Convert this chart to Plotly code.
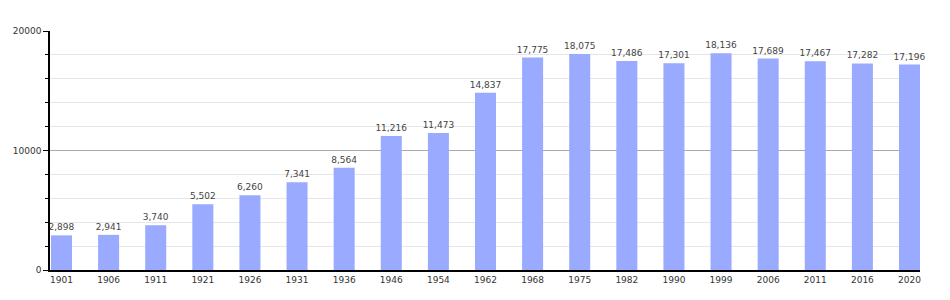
import plotly.graph_objects as go

years = ["1901", "1906", "1911", "1921", "1926", "1931", "1936", "1946", "1954", "1962",
         "1968", "1975", "1982", "1990", "1999", "2006", "2011", "2016", "2020"]
population = [2898, 2941, 3740, 5502, 6260, 7341, 8564, 11216, 11473, 14837,
              17775, 18075, 17486, 17301, 18136, 17689, 17467, 17282, 17196]

fig = go.Figure()
fig.add_trace(go.Bar(
    x=years, y=population,
    marker=dict(color="#99aaff", line=dict(width=0)),
    width=0.446,
    text=[f"{v:,}" for v in population],
    textposition="outside",
    constraintext="none",
    textfont=dict(family="DejaVu Sans", size=9, color="#444444"),
    cliponaxis=False,
))

fig.update_layout(
    width=950, height=300,
    margin=dict(l=50, r=30, t=31, b=30),
    paper_bgcolor="white", plot_bgcolor="white",
    showlegend=False,
    xaxis=dict(
        type="category",
        range=[-0.244, 18.223],
        showgrid=False,
        showline=True, linecolor="black", linewidth=1.5,
        ticks="",
        tickfont=dict(family="DejaVu Sans", size=9, color="#333333"),
    ),
    yaxis=dict(
        range=[0, 20000],
        tickvals=[0, 10000, 20000],
        ticktext=["0", "10000", "20000"],
        showgrid=True, gridcolor="#aaaaaa", gridwidth=1,
        showline=True, linecolor="black", linewidth=1.5,
        ticks="outside", ticklen=5, tickcolor="black",
        tickfont=dict(family="DejaVu Sans", size=9, color="#333333"),
        zeroline=False,
        minor=dict(dtick=2000, showgrid=True, gridcolor="#e6e6e6",
                   ticks="outside", ticklen=3, tickcolor="black"),
    ),
)

fig.write_html("out.html")
